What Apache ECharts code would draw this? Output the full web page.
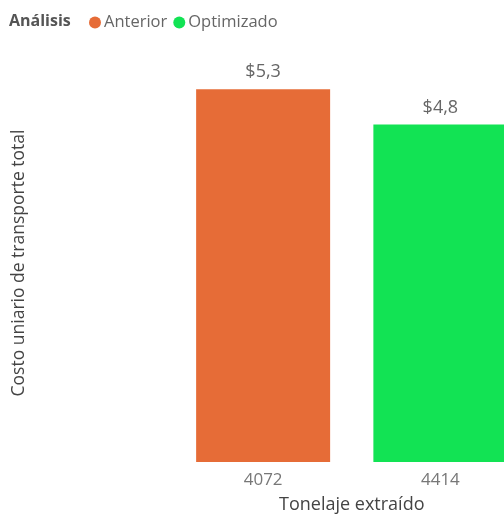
<!DOCTYPE html>
<html>
<head>
<meta charset="utf-8">
<script src="https://cdn.jsdelivr.net/npm/echarts@6/dist/echarts.min.js"></script>
<style>
  html, body { margin: 0; padding: 0; background: #fff; overflow: hidden; }
  /* The plot runs past the right edge of the visible page, so the second bar is cut off */
  #chart { width: 529px; height: 514px; }
</style>
</head>
<body>
<div id="chart"></div>
<script>
// Tonnage categories and unit transport cost per scenario
const categories = ['4072', '4414'];
const seriesNames = ['Anterior', 'Optimizado'];
const anteriorValues = [5.3, null];
const optimizadoValues = [null, 4.8];
const colors = ['#E66C37', '#12E354'];

const FONT = '"Segoe UI", "Open Sans", "Noto Sans", sans-serif';

const fmt = v => '$' + v.toFixed(1).replace('.', ',');

const labelStyle = {
  show: true,
  position: 'top',
  distance: 8,
  color: '#666',
  fontSize: 18,
  fontFamily: FONT,
  formatter: p => fmt(p.value)
};

const chart = echarts.init(document.getElementById('chart'), null, { renderer: 'canvas' });

chart.setOption({
  animation: false,
  backgroundColor: '#fff',
  textStyle: { fontFamily: FONT },
  legend: {
    left: 84,
    top: 9,
    icon: 'circle',
    itemWidth: 12,
    itemHeight: 12,
    itemGap: 6,
    textStyle: { color: '#666', fontSize: 16.5, fontFamily: FONT, padding: [0, 0, 0, -2] },
    data: seriesNames
  },
  graphic: [
    {
      type: 'text',
      left: 9,
      top: 13,
      style: { text: 'Análisis', fill: '#555', font: 'bold 16px ' + FONT }
    },
    {
      type: 'text',
      x: 19,
      y: 263,
      rotation: Math.PI / 2,
      style: {
        text: 'Costo uniario de transporte total',
        fill: '#444',
        font: '17.5px ' + FONT,
        align: 'center',
        verticalAlign: 'middle'
      }
    }
  ],
  grid: { left: 174.5, right: 0, top: 40, bottom: 52, containLabel: false, outerBoundsMode: 'none' },
  xAxis: {
    type: 'category',
    data: categories,
    axisLine: { show: false },
    axisTick: { show: false },
    axisLabel: { color: '#777', fontSize: 17, fontFamily: FONT, margin: 10 },
    name: 'Tonelaje extraído',
    nameLocation: 'middle',
    nameGap: 34,
    nameTextStyle: { color: '#444', fontSize: 18, fontFamily: FONT }
  },
  yAxis: {
    type: 'value',
    min: 0,
    max: 6,
    show: false
  },
  series: [
    {
      name: seriesNames[0],
      type: 'bar',
      stack: 'total',
      barWidth: 134,
      data: anteriorValues,
      itemStyle: { color: colors[0] },
      label: labelStyle
    },
    {
      name: seriesNames[1],
      type: 'bar',
      stack: 'total',
      barWidth: 134,
      data: optimizadoValues,
      itemStyle: { color: colors[1] },
      label: labelStyle
    }
  ]
});
</script>
</body>
</html>
